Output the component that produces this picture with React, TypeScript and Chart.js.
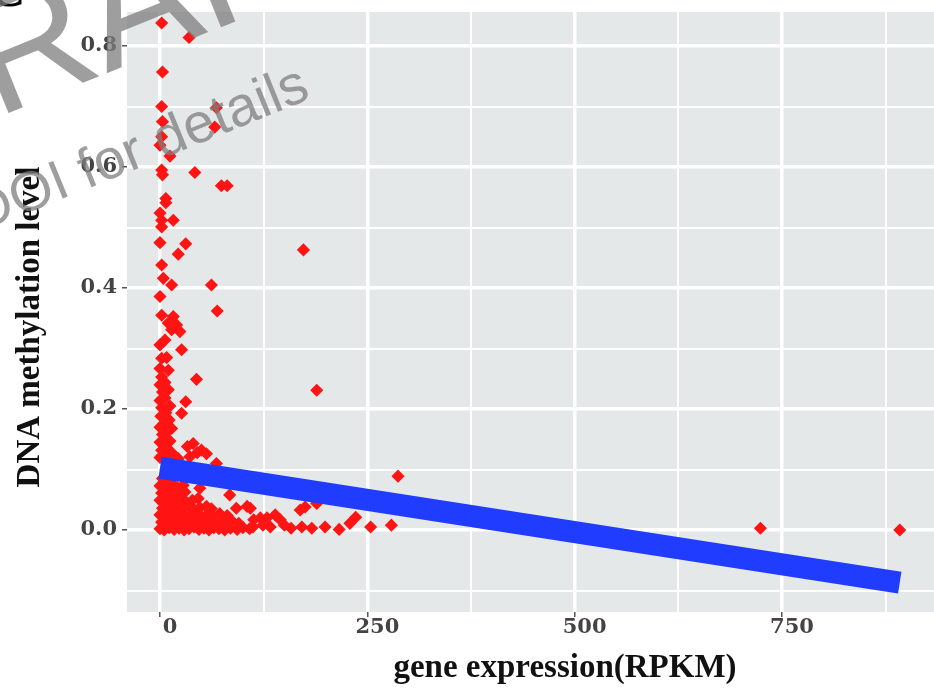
import React, { useEffect, useRef } from 'react';
import { Chart, registerables } from 'chart.js';

Chart.register(...registerables);

// ---- data ----
// gene expression (RPKM) of each gene
const expression = [
  // sparse upper points
  2, 35, 3, 2, 68, 3, 66, 2, 0, 12, 2, 3, 42, 74, 81, 7, 7, 0, 2, 16, 2, 0, 31, 22, 173,
  2, 4, 14, 62, 0, 69, 2, 16, 10, 20, 14, 24, 6, 0, 26, 2, 8, 0, 10, 2, 44, 189,
  // column above the fit line
  0, 6, 3, 10, 0, 6, 31, 2, 12, 1, 7, 26, 5, 11, 0, 14, 3, 9, 0, 6, 12, 2, 8, 14, 0,
  5, 11, 22, 36, 45, 50, 40, 33, 56, 68,
  // dense cluster near zero
  0, 5, 11, 17, 23, 29, 35, 41, 47, 53, 59, 65, 71, 78, 85, 93, 100, 108,
  2, 8, 14, 20, 27, 33, 39, 46, 52, 58, 64, 70, 77, 86, 95,
  0, 6, 12, 18, 25, 31, 37, 44, 50, 57, 63, 72, 81,
  3, 9, 15, 22, 28, 35, 41, 48, 56, 62,
  0, 6, 13, 19, 26, 32, 39, 46,
  2, 9, 16, 23, 30, 48, 84,
  0, 7, 14, 21, 28, 3, 10, 17,
  // right tail
  92, 105, 109, 113, 112, 121, 124, 129, 133, 139, 145, 150, 158, 169, 175, 189, 171,
  183, 199, 216, 229, 236, 254, 279, 287, 724, 892,
];

// DNA methylation level of each gene
const methylation = [
  0.838, 0.814, 0.757, 0.7, 0.698, 0.675, 0.666, 0.65, 0.636, 0.618, 0.595, 0.587, 0.591,
  0.569, 0.569, 0.548, 0.541, 0.524, 0.512, 0.512, 0.501, 0.475, 0.473, 0.456, 0.463,
  0.438, 0.416, 0.405, 0.405, 0.386, 0.362, 0.355, 0.353, 0.342, 0.339, 0.331, 0.328,
  0.314, 0.306, 0.298, 0.284, 0.285, 0.267, 0.264, 0.253, 0.249, 0.231,
  0.24, 0.244, 0.228, 0.232, 0.214, 0.218, 0.212, 0.202, 0.205, 0.188, 0.194, 0.193,
  0.176, 0.182, 0.17, 0.168, 0.158, 0.163, 0.145, 0.15, 0.147, 0.132, 0.136, 0.128, 0.12,
  0.118, 0.123, 0.118, 0.121, 0.128, 0.132, 0.143, 0.138, 0.126, 0.11,
  0.002, 0.0, 0.004, 0.001, 0.003, 0.0, 0.002, 0.005, 0.001, 0.003, 0.0, 0.004, 0.002,
  0.0, 0.003, 0.001, 0.004, 0.002,
  0.013, 0.011, 0.015, 0.01, 0.014, 0.012, 0.016, 0.011, 0.014, 0.012, 0.015, 0.01,
  0.013, 0.016, 0.011,
  0.025, 0.022, 0.026, 0.023, 0.027, 0.021, 0.025, 0.024, 0.022, 0.026, 0.023, 0.027, 0.024,
  0.036, 0.038, 0.034, 0.037, 0.035, 0.039, 0.034, 0.037, 0.039, 0.035,
  0.049, 0.046, 0.05, 0.047, 0.051, 0.046, 0.049, 0.052,
  0.061, 0.058, 0.062, 0.059, 0.063, 0.069, 0.058,
  0.073, 0.071, 0.075, 0.07, 0.074, 0.085, 0.083, 0.087,
  0.036, 0.039, 0.036, 0.017, 0.005, 0.02, 0.008, 0.02, 0.005, 0.025, 0.017, 0.008, 0.003,
  0.033, 0.038, 0.044, 0.005, 0.003, 0.005, 0.001, 0.011, 0.021, 0.005, 0.008, 0.089,
  0.003, 0.0,
];

// linear fit line end points
const fitExpression = [0, 892];
const fitMethylation = [0.103, -0.087];

// axis ticks
const xMajorTicks = [0, 250, 500, 750];
const xMinorTicks = [125, 375, 625, 875];
const yMajorTicks = [0, 0.2, 0.4, 0.6, 0.8];
const yMinorTicks = [-0.1, 0.1, 0.3, 0.5, 0.7];

const xTitle = 'gene expression(RPKM)';
const yTitle = 'DNA methylation level';
const watermarkBig = 'DRAFT';
const watermarkSmall = 'See DOI for details';

const W = 934;
const H = 688;
const PANEL_BG = '#e5e8e8';
const SERIF = '"Liberation Serif", "Times New Roman", serif';
const TICK_SERIF = '"DejaVu Serif", "Liberation Serif", serif';
const SANS = '"Liberation Sans", Arial, sans-serif';

const isIn = (arr: number[], v: number) => arr.some((a) => Math.abs(a - v) < 1e-9);

const panelPlugin = {
  id: 'panelBg',
  beforeDraw(chart: any) {
    const { ctx, chartArea } = chart;
    ctx.save();
    ctx.fillStyle = '#ffffff';
    ctx.fillRect(0, 0, chart.width, chart.height);
    ctx.fillStyle = PANEL_BG;
    ctx.fillRect(chartArea.left, chartArea.top, chartArea.right - chartArea.left, chartArea.bottom - chartArea.top);
    ctx.restore();
  },
};

const overlayPlugin = {
  id: 'overlay',
  afterDraw(chart: any) {
    const { ctx } = chart;
    // axis titles
    ctx.save();
    ctx.fillStyle = '#111111';
    ctx.font = `bold 33px ${SERIF}`;
    ctx.textAlign = 'center';
    ctx.textBaseline = 'alphabetic';
    ctx.fillText(xTitle, 565, 677);
    ctx.translate(39, 327);
    ctx.rotate(-Math.PI / 2);
    ctx.fillText(yTitle, 0, 0);
    ctx.restore();

    // panel letter (cut off at the top)
    ctx.save();
    ctx.fillStyle = '#000000';
    ctx.font = `bold 52px ${SERIF}`;
    ctx.textBaseline = 'alphabetic';
    ctx.fillText('C', -12, 6);
    ctx.restore();

    // watermark
    const ang = (-22 * Math.PI) / 180;
    ctx.save();
    ctx.fillStyle = 'rgba(125,125,125,0.75)';
    ctx.font = `165px ${SANS}`;
    ctx.translate(-4, 118);
    ctx.rotate(ang);
    const dW = ctx.measureText('D').width;
    ctx.textAlign = 'left';
    ctx.fillText(watermarkBig, -dW, 0);
    ctx.restore();

    ctx.save();
    ctx.fillStyle = 'rgba(125,125,125,0.75)';
    ctx.font = `56px ${SANS}`;
    ctx.translate(312, 98);
    ctx.rotate(ang);
    ctx.textAlign = 'right';
    ctx.fillText(watermarkSmall, 0, 0);
    ctx.restore();
  },
};

export default function App() {
  const canvasRef = useRef<HTMLCanvasElement | null>(null);

  useEffect(() => {
    const canvas = canvasRef.current;
    if (!canvas) return;

    const points = expression.map((x, i) => ({ x, y: methylation[i] }));
    const fit = fitExpression.map((x, i) => ({ x, y: fitMethylation[i] }));
    const xTicks = [...xMajorTicks, ...xMinorTicks].sort((a, b) => a - b);
    const yTicks = [...yMajorTicks, ...yMinorTicks].sort((a, b) => a - b);

    const tickFont = { family: TICK_SERIF, size: 21, weight: 'bold' as const };

    const chart = new Chart(canvas, {
      type: 'scatter',
      data: {
        datasets: [
          {
            type: 'line',
            data: fit,
            borderColor: '#1f3cff',
            borderWidth: 22,
            borderCapStyle: 'butt',
            pointRadius: 0,
            fill: false,
            tension: 0,
            order: 0,
          } as any,
          {
            type: 'scatter',
            data: points,
            pointStyle: 'rectRot',
            pointRadius: 5.5,
            pointBorderWidth: 1.5,
            backgroundColor: '#ff1414',
            borderColor: '#ff1414',
            order: 1,
          } as any,
        ],
      },
      options: {
        responsive: false,
        animation: false,
        devicePixelRatio: 1,
        layout: { autoPadding: false, padding: { top: 12, left: 0, right: 0, bottom: 0 } },
        plugins: {
          legend: { display: false },
          tooltip: { enabled: false },
        },
        scales: {
          x: {
            type: 'linear',
            min: -39.8,
            max: 933.3,
            afterBuildTicks: (s: any) => {
              s.ticks = xTicks.map((v) => ({ value: v }));
            },
            afterFit: (s: any) => {
              s.height = 76;
              s.paddingLeft = 0;
              s.paddingRight = 0;
            },
            border: { display: false },
            grid: {
              color: '#ffffff',
              lineWidth: (c: any) => (c.tick && isIn(xMajorTicks, c.tick.value) ? 3.5 : 2),
              drawTicks: true,
              tickLength: 5,
              tickWidth: 1.5,
              tickColor: (c: any) => (c.tick && isIn(xMajorTicks, c.tick.value) ? '#555555' : 'rgba(0,0,0,0)'),
            },
            ticks: {
              autoSkip: false,
              maxRotation: 0,
              minRotation: 0,
              padding: -2,
              labelOffset: 10,
              color: '#444444',
              font: tickFont,
              callback: (v: any) => (isIn(xMajorTicks, Number(v)) ? String(v) : ''),
            },
          },
          y: {
            type: 'linear',
            min: -0.1355,
            max: 0.8562,
            afterBuildTicks: (s: any) => {
              s.ticks = yTicks.map((v) => ({ value: v }));
            },
            afterFit: (s: any) => {
              s.width = 127;
              s.paddingTop = 0;
              s.paddingBottom = 0;
            },
            border: { display: false },
            grid: {
              color: '#ffffff',
              lineWidth: (c: any) => (c.tick && isIn(yMajorTicks, c.tick.value) ? 3.5 : 2),
              drawTicks: true,
              tickLength: 5,
              tickWidth: 1.5,
              tickColor: (c: any) => (c.tick && isIn(yMajorTicks, c.tick.value) ? '#555555' : 'rgba(0,0,0,0)'),
            },
            ticks: {
              autoSkip: false,
              padding: 5,
              color: '#444444',
              font: tickFont,
              callback: (v: any) => (isIn(yMajorTicks, Number(v)) ? Number(v).toFixed(1) : ''),
            },
          },
        },
      },
      plugins: [panelPlugin, overlayPlugin],
    });

    return () => {
      chart.destroy();
    };
  }, []);

  return (
    <div
      style={{
        position: 'fixed',
        left: 0,
        top: 0,
        width: W,
        height: H,
        overflow: 'hidden',
        background: '#ffffff',
      }}
    >
      <canvas ref={canvasRef} width={W} height={H} style={{ display: 'block', width: W, height: H }} />
    </div>
  );
}
